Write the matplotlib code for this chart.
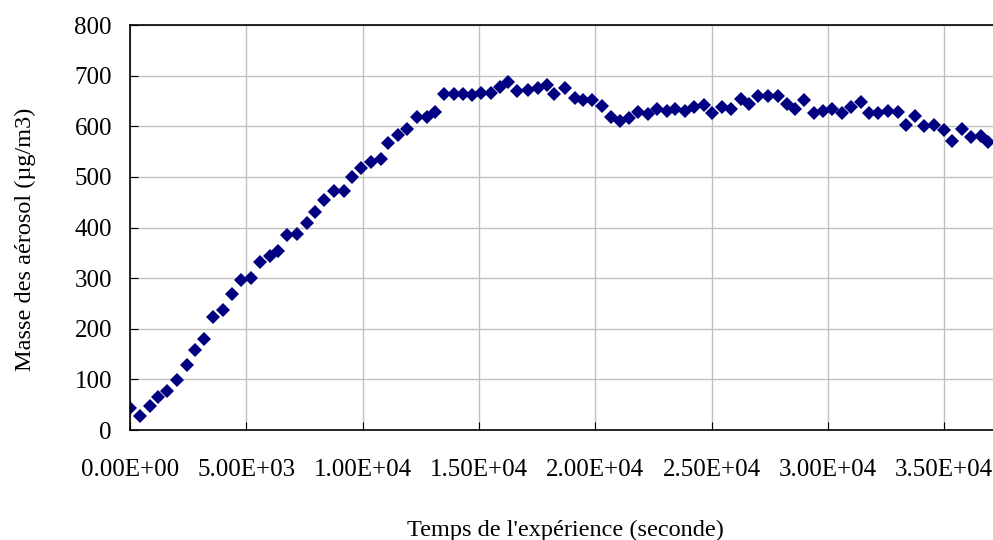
import matplotlib.pyplot as plt

# Temps (s) et masse des aérosols (µg/m3)
temps = [0, 430, 860, 1215, 1600, 2010, 2440, 2800, 3200, 3580,
         4010, 4370, 4770, 5200, 5590, 6020, 6350, 6760, 7180, 7600,
         7950, 8340, 8760, 9190, 9530, 9930, 10350, 10780, 11110, 11510,
         11930, 12340, 12760, 13120, 13500, 13930, 14330, 14690, 15090, 15510,
         15910, 16270, 16650, 17090, 17520, 17920, 18230, 18680, 19110, 19490,
         19880, 20280, 20680, 21070, 21460, 21830, 22260, 22670, 23080, 23430,
         23860, 24250, 24680, 25040, 25440, 25840, 26260, 26620, 26990, 27420,
         27850, 28240, 28590, 28990, 29420, 29810, 30170, 30600, 31000, 31420,
         31770, 32170, 32580, 33010, 33350, 33750, 34150, 34580, 35000, 35330,
         35760, 36160, 36580, 36900]
masse = [44, 28, 47, 65, 78, 99, 129, 158, 180, 224,
         238, 269, 297, 300, 331, 344, 354, 385, 388, 409,
         431, 455, 473, 473, 500, 518, 530, 536, 566, 582,
         594, 619, 618, 629, 663, 663, 664, 661, 666, 666,
         678, 687, 669, 671, 676, 682, 663, 676, 656, 651,
         651, 640, 619, 610, 616, 628, 625, 635, 631, 635,
         631, 638, 642, 627, 638, 635, 654, 643, 659, 659,
         659, 643, 635, 652, 627, 631, 635, 627, 638, 648,
         627, 627, 631, 628, 602, 621, 601, 602, 593, 571,
         594, 578, 581, 568]

x_ticks = [0, 5000, 10000, 15000, 20000, 25000, 30000, 35000]
y_ticks = [0, 100, 200, 300, 400, 500, 600, 700, 800]

plt.rcParams['font.family'] = ['Liberation Serif', 'DejaVu Serif']

fig = plt.figure(figsize=(9.93, 5.4), dpi=100)
ax = fig.add_axes([0.1309, 0.2037, 0.8691, 0.75])

ax.plot(temps, masse, linestyle='none', marker='D', markersize=7,
        color='#000080', markeredgewidth=0)

ax.set_xlim(0, 37100)
ax.set_ylim(0, 800)
ax.set_xticks(x_ticks)
ax.set_yticks(y_ticks)
ax.set_xticklabels(['%.2E' % v for v in x_ticks])
ax.grid(True, color='#c0c0c0', linewidth=1)
ax.set_axisbelow(True)

ax.spines['right'].set_visible(False)
for s in ['left', 'bottom', 'top']:
    ax.spines[s].set_linewidth(1.2)

ax.tick_params(axis='x', direction='in', length=6, pad=21, labelsize=18)
ax.tick_params(axis='y', direction='in', length=6, pad=13, labelsize=18)

ax.set_xlabel("Temps de l'expérience (seconde)", fontsize=17.5)
ax.set_ylabel("Masse des aérosol (µg/m3)", fontsize=17.5)
ax.xaxis.set_label_coords(0.505, -0.222)
ax.yaxis.set_label_coords(-0.109, 0.4716)

fig.savefig('out.png', dpi=100)
